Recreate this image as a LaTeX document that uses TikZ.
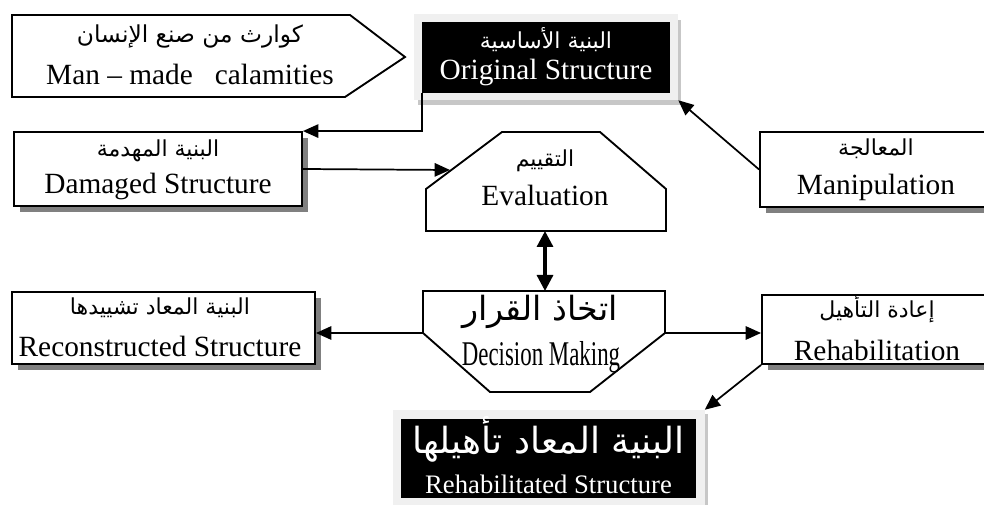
\documentclass[tikz,border=0pt]{standalone}
\usepackage{fontspec}
\setmainfont{Liberation Serif}
\newfontfamily\arabicfont[Script=Arabic]{DejaVu Sans}
\TeXXeTstate=1
\usetikzlibrary{arrows.meta,shadows}
\tikzset{
  box/.style={draw, line width=1.4pt, fill=white, inner sep=0pt},
  sbox/.style={box, drop shadow={shadow xshift=4.5pt, shadow yshift=-4.5pt, fill=black!50, opacity=1}},
  blk/.style={fill=black, inner sep=0pt},
  frm/.style={fill=black!6, inner sep=0pt},
  stripe/.style={fill=black!22},
  en/.style={font=\fontsize{22}{24}\selectfont, inner sep=0pt},
  ar/.style={font=\arabicfont\fontsize{16.5}{18}\selectfont, inner sep=0pt},
  arbig/.style={font=\arabicfont\fontsize{25}{27}\selectfont, inner sep=0pt},
  shp/.style={draw, line width=1.4pt},
  arr/.style={line width=1.3pt, -{Triangle[length=11.5pt,width=10pt]}},
  darr/.style={line width=2.4pt, {Triangle[length=12pt,width=12pt]}-{Triangle[length=12pt,width=12pt]}},
}
\begin{document}
\begin{tikzpicture}[x=0.75pt,y=-0.75pt]
\useasboundingbox (0,0) rectangle (984,505);
\clip (0,0) rectangle (984,505);
\fill[white] (0,0) rectangle (984,505);

% Man-made calamities
\draw[shp] (12,15) -- (350,15) -- (405,57) -- (345,97) -- (12,97) -- cycle;
\node[ar, font=\arabicfont\fontsize{17.5}{19}\selectfont] (manA) at (190,36) {\beginR كوارث من صنع الإنسان\endR};
\node[en] (manE) at (190,74) {Man -- made \ \ calamities};

% Original structure
\fill[stripe] (418,100) rectangle (681,105);
\fill[stripe] (678,20) rectangle (681,105);
\node[frm, minimum width=198pt, minimum height=64.5pt] (origf) at (546,57) {};
\node[blk, minimum width=186pt, minimum height=53.25pt] (orig) at (546,57.5) {};
\node[ar, text=white] (origA) at (546,40) {\beginR البنية الأساسية\endR};
\node[en, text=white] (origE) at (546,72) {Original Structure};

% Damaged structure
\node[sbox, minimum width=216pt, minimum height=55.5pt] (dam) at (158,169) {};
\node[ar] (damA) at (158,151) {\beginR البنية المهدمة\endR};
\node[en] (damE) at (158,186) {Damaged Structure};

% Manipulation
\node[sbox, minimum width=174pt, minimum height=56.25pt] (manip) at (876,169.5) {};
\node[ar] (manipA) at (876,149) {\beginR المعالجة\endR};
\node[en] (manipE) at (876,187) {Manipulation};

% Evaluation
\draw[shp] (426,231) -- (426,189) -- (502,132) -- (600,132) -- (666,189) -- (666,231) -- cycle;
\coordinate (evalL) at (450,170);
\coordinate (evalB) at (545,231);
\node[ar] (evalA) at (545,161) {\beginR التقييم\endR};
\node[en] (evalE) at (545,195) {Evaluation};

% Decision making
\draw[shp] (423,291) -- (665,291) -- (665,333) -- (590,392) -- (490,392) -- (423,333) -- cycle;
\coordinate (decT) at (545,291);
\coordinate (decL) at (423,333);
\coordinate (decR) at (665,333);
\node[arbig] (decA) at (540,312) {\beginR اتخاذ القرار\endR};
\node[inner sep=0pt] (decE) at (541,357) {\scalebox{0.66}[1]{\fontsize{26}{28}\selectfont Decision Making}};

% Reconstructed
\node[sbox, minimum width=227.25pt, minimum height=54pt] (recon) at (163.5,328) {};
\node[ar] (reconA) at (160,308) {\beginR البنية المعاد تشييدها\endR};
\node[en] (reconE) at (160,346) {Reconstructed Structure};

% Rehabilitation
\node[sbox, minimum width=172.5pt, minimum height=51.75pt] (rehab) at (877,329.5) {};
\node[ar] (rehabA) at (877,309) {\beginR إعادة التأهيل\endR};
\node[en] (rehabE) at (877,350) {Rehabilitation};

% Rehabilitated structure
\fill[stripe] (705,414) rectangle (708,505);
\node[frm, minimum width=234pt, minimum height=75pt] (rhbf) at (548.5,460) {};
\node[blk, minimum width=221.25pt, minimum height=59.25pt] (rhb) at (548.5,458.5) {};
\node[arbig, font=\arabicfont\fontsize{27}{29}\selectfont, text=white] (rhbA) at (548.5,439) {\beginR البنية المعاد تأهيلها\endR};
\node[font=\fontsize{20}{22}\selectfont, inner sep=0pt, text=white] (rhbE) at (548.5,484) {Rehabilitated Structure};

% connectors
\draw[arr] (orig.south west) |- (dam.north east);
\draw[arr] (dam.east) -- (evalL);
\draw[arr] (manip.west) -- (origf.south east);
\draw[darr] (evalB) -- (decT);
\draw[arr] (decL) -- (decL -| recon.east);
\draw[arr] (decR) -- (decR -| rehab.west);
\draw[arr] (rehab.south west) -- (rhbf.north east);
\end{tikzpicture}
\end{document}
